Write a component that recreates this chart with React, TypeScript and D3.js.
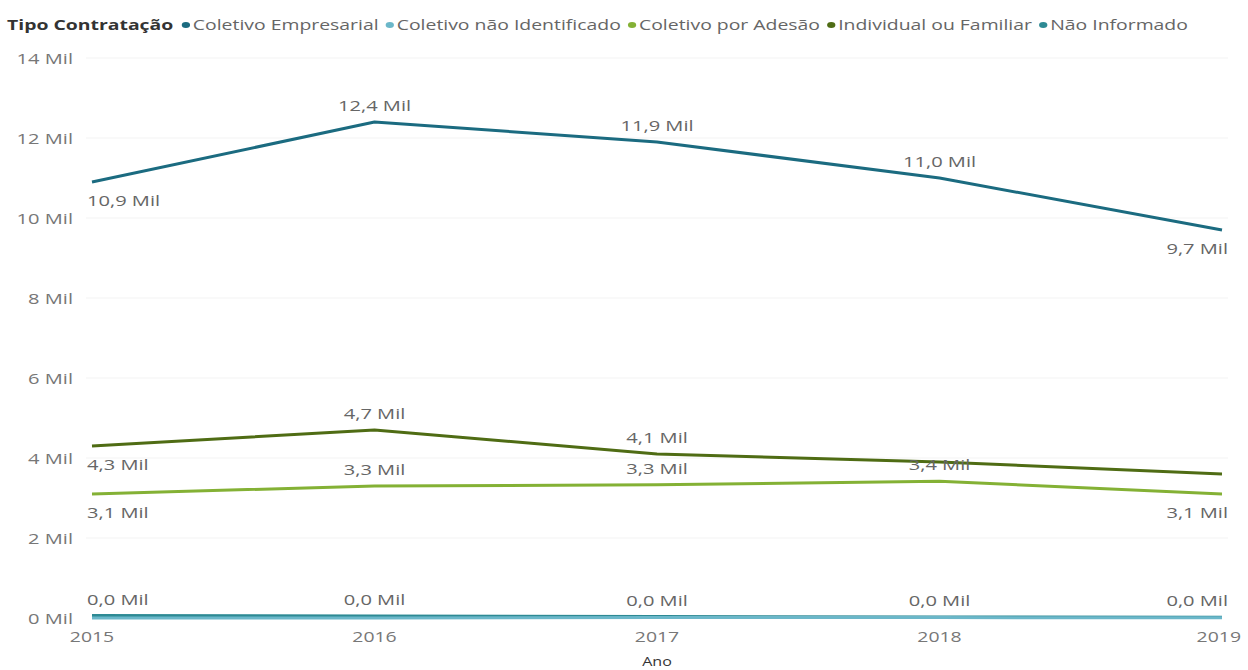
import React, { useRef, useEffect } from "react";
import * as d3 from "d3";

const years = ["2015", "2016", "2017", "2018", "2019"];
const seriesNames = [
  "Coletivo Empresarial",
  "Coletivo não Identificado",
  "Coletivo por Adesão",
  "Individual ou Familiar",
  "Não Informado",
];
// values in thousands ("Mil")
const empresarial = [10.9, 12.4, 11.9, 11.0, 9.7];
const naoIdentificado = [0.0, 0.0, 0.01, 0.01, 0.005];
const adesao = [3.1, 3.3, 3.33, 3.42, 3.1];
const individual = [4.3, 4.7, 4.1, 3.9, 3.6];
const naoInformado = [0.06, 0.05, 0.035, 0.025, 0.02];
const yTicks = [0, 2, 4, 6, 8, 10, 12, 14];

const colors = ["#1b6b80", "#6bb7c9", "#84b135", "#4f6c14", "#2d8a94"];
// label placement per series/year: a = above, b = below, "" = hidden
const labelPos = [
  ["b", "a", "a", "a", "b"],
  ["", "", "", "", ""],
  ["b", "a", "a", "a", "b"],
  ["b", "a", "a", "", ""],
  ["a", "a", "a", "a", "a"],
];

const SX = 1.34; // horizontal stretch of the text in the reference

const App: React.FC = () => {
  const svgRef = useRef<SVGSVGElement>(null);

  useEffect(() => {
    const svg = d3.select(svgRef.current);
    svg.selectAll("*").remove();
    const font = "'Open Sans', 'Segoe UI', sans-serif";
    const allSeries = [empresarial, naoIdentificado, adesao, individual, naoInformado];

    const addText = (
      px: number,
      py: number,
      txt: string,
      size: number,
      fill: string,
      anchor = "start",
      weight = 400,
      sx = SX
    ) =>
      svg
        .append("text")
        .attr("transform", `translate(${px},${py}) scale(${sx},1)`)
        .attr("text-anchor", anchor)
        .attr("font-family", font)
        .attr("font-size", size)
        .attr("font-weight", weight)
        .attr("fill", fill)
        .text(txt);

    const x = d3.scalePoint<string>().domain(years).range([92, 1222]);
    const y = d3.scaleLinear().domain([0, 14]).range([618, 58]);

    // legend: chained items, stretched to end where the reference ends
    const legendEnd = 1188;
    const lg = svg.append("g");
    const title = lg
      .append("text")
      .attr("font-family", font)
      .attr("font-size", 14)
      .attr("font-weight", 700)
      .attr("fill", "#333")
      .attr("x", 0)
      .attr("y", 0)
      .text("Tipo Contratação");
    let lx = (title.node() as SVGTextElement).getComputedTextLength() + 9;
    seriesNames.forEach((name, i) => {
      lg.append("circle")
        .attr("cx", lx)
        .attr("cy", -5)
        .attr("r", 3)
        .attr("fill", colors[i]);
      const t = lg
        .append("text")
        .attr("font-family", font)
        .attr("font-size", 14)
        .attr("fill", "#666")
        .attr("x", lx + 5)
        .attr("y", 0)
        .text(name);
      lx += 5 + (t.node() as SVGTextElement).getComputedTextLength() + (i < seriesNames.length - 1 ? 8 : 0);
    });
    const lsx = (legendEnd - 7) / lx;
    lg.attr("transform", `translate(7,30) scale(${lsx},1)`);

    // grid
    svg
      .append("g")
      .selectAll("line")
      .data(yTicks.filter((t) => t > 0))
      .enter()
      .append("line")
      .attr("x1", 86)
      .attr("x2", 1228)
      .attr("y1", (d) => y(d))
      .attr("y2", (d) => y(d))
      .attr("stroke", "#f3f3f3")
      .attr("stroke-width", 1);

    // y axis labels
    yTicks.forEach((t) => addText(73, y(t) + 6, `${t} Mil`, 15, "#777", "end"));

    // x axis labels
    years.forEach((yr, i) => {
      const last = i === years.length - 1;
      addText(last ? 1241 : x(yr)!, 642, yr, 14.5, "#777", last ? "end" : "middle");
    });
    addText((x("2015")! + x("2019")!) / 2, 666, "Ano", 12, "#333", "middle");

    // lines
    const line = d3
      .line<number>()
      .x((_, i) => x(years[i])!)
      .y((d) => y(d));
    const order = [4, 1, 2, 3, 0];
    order.forEach((si) => {
      svg
        .append("path")
        .datum(allSeries[si])
        .attr("d", line)
        .attr("fill", "none")
        .attr("stroke", colors[si])
        .attr("stroke-width", 3)
        .attr("stroke-linejoin", "round");
    });

    // data labels
    const fmt = (v: number) => `${v.toFixed(1).replace(".", ",")} Mil`;
    allSeries.forEach((vals, si) => {
      vals.forEach((v, i) => {
        const pos = labelPos[si][i];
        if (!pos) return;
        const last = i === years.length - 1;
        const anchor = i === 0 ? "start" : last ? "end" : "middle";
        const xx = i === 0 ? x(years[i])! - 5 : last ? x(years[i])! + 6 : x(years[i])!;
        const label = si === 4 ? fmt(0) : fmt(v);
        addText(xx, pos === "a" ? y(v) - 11 : y(v) + 24, label, 15, "#666", anchor);
      });
    });
  }, []);

  return (
    <svg
      ref={svgRef}
      width={1248}
      height={670}
      style={{ position: "absolute", left: 0, top: 0, background: "#fff" }}
    ></svg>
  );
};

export default App;
